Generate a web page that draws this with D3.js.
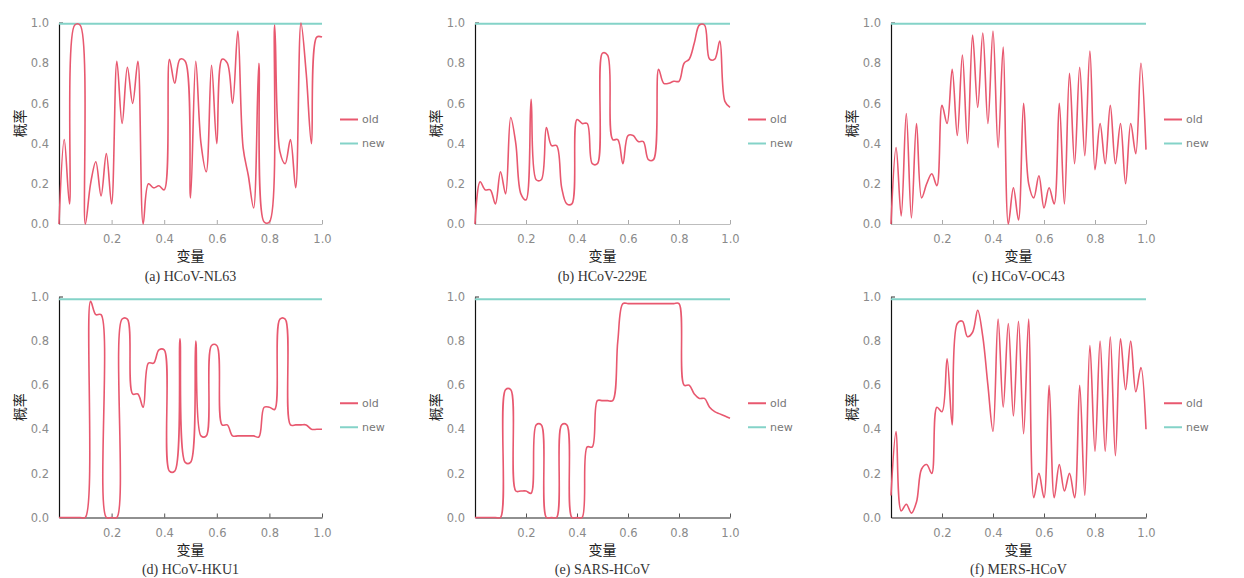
<!DOCTYPE html>
<html>
<head>
<meta charset="utf-8">
<script src="https://cdn.jsdelivr.net/npm/d3@7"></script>
<style>
  body { margin: 0; background: #fff; }
  svg { display: block; }
</style>
</head>
<body>
<svg id="chart"></svg>
<script>
const xValues = [0, 0.02, 0.04, 0.06, 0.08, 0.1, 0.12, 0.14, 0.16, 0.18, 0.2, 0.22, 0.24, 0.26, 0.28, 0.3,
  0.32, 0.34, 0.36, 0.38, 0.4, 0.42, 0.44, 0.46, 0.48, 0.5, 0.52, 0.54, 0.56, 0.58, 0.6, 0.62, 0.64,
  0.66, 0.68, 0.7, 0.72, 0.74, 0.76, 0.78, 0.8, 0.82, 0.84, 0.86, 0.88, 0.9, 0.92, 0.94, 0.96, 0.98, 1];

const captions = ["(a) HCoV-NL63", "(b) HCoV-229E", "(c) HCoV-OC43", "(d) HCoV-HKU1", "(e) SARS-HCoV", "(f) MERS-HCoV"];
const seriesNames = ["old", "new"];
const yTicks = [0, 0.2, 0.4, 0.6, 0.8, 1.0];
const xTicks = [0.2, 0.4, 0.6, 0.8, 1.0];

const oldNL63 = [0.0, 0.42, 0.1, 0.99, 0.99, 0.0, 0.2, 0.31, 0.14, 0.35, 0.1, 0.81, 0.5, 0.78, 0.6, 0.81, 0.0,
  0.2, 0.18, 0.19, 0.17, 0.82, 0.7, 0.82, 0.81, 0.13, 0.81, 0.4, 0.26, 0.79, 0.4, 0.82, 0.8, 0.6, 0.96, 0.38,
  0.24, 0.08, 0.8, 0.01, 0.01, 0.99, 0.36, 0.3, 0.42, 0.18, 1.0, 0.75, 0.4, 0.93, 0.93];
const old229E = [0.0, 0.21, 0.17, 0.17, 0.1, 0.26, 0.15, 0.53, 0.4, 0.15, 0.12, 0.62, 0.22, 0.22, 0.48, 0.39,
  0.39, 0.18, 0.1, 0.1, 0.52, 0.5, 0.5, 0.3, 0.3, 0.85, 0.84, 0.42, 0.42, 0.3, 0.44, 0.44, 0.41, 0.41, 0.32,
  0.32, 0.77, 0.7, 0.7, 0.71, 0.71, 0.8, 0.82, 0.9, 0.99, 0.99, 0.82, 0.82, 0.91, 0.61, 0.58];
const oldOC43 = [0.0, 0.38, 0.04, 0.55, 0.03, 0.5, 0.13, 0.2, 0.25, 0.19, 0.59, 0.5, 0.77, 0.44, 0.84, 0.4,
  0.94, 0.58, 0.95, 0.5, 0.96, 0.38, 0.88, 0.0, 0.18, 0.02, 0.6, 0.2, 0.13, 0.24, 0.08, 0.18, 0.1, 0.6, 0.1,
  0.75, 0.3, 0.78, 0.34, 0.86, 0.27, 0.5, 0.3, 0.59, 0.3, 0.5, 0.2, 0.5, 0.35, 0.8, 0.37];
const oldHKU1 = [0, 0, 0, 0, 0, 0, 0.98, 0.92, 0.92, 0, 0, 0, 0.9, 0.9, 0.56, 0.56, 0.5, 0.7, 0.7, 0.76, 0.76,
  0.21, 0.21, 0.81, 0.25, 0.25, 0.8, 0.37, 0.37, 0.78, 0.78, 0.42, 0.42, 0.37, 0.37, 0.37, 0.37, 0.37, 0.365,
  0.5, 0.5, 0.49, 0.9, 0.9, 0.42, 0.42, 0.42, 0.42, 0.4, 0.4, 0.4];
const oldSARS = [0, 0, 0, 0, 0, 0, 0.58, 0.58, 0.12, 0.12, 0.12, 0.11, 0.42, 0.42, 0, 0, 0, 0.42, 0.42, 0, 0,
  0, 0.32, 0.32, 0.53, 0.53, 0.53, 0.53, 0.8, 0.97, 0.97, 0.97, 0.97, 0.97, 0.97, 0.97, 0.97, 0.97, 0.97,
  0.97, 0.97, 0.6, 0.6, 0.56, 0.54, 0.54, 0.5, 0.48, 0.47, 0.46, 0.45];
const oldMERS = [0.1, 0.39, 0.03, 0.06, 0.02, 0.07, 0.22, 0.24, 0.2, 0.5, 0.48, 0.72, 0.42, 0.88, 0.89, 0.82,
  0.84, 0.94, 0.82, 0.6, 0.39, 0.9, 0.5, 0.88, 0.46, 0.89, 0.38, 0.9, 0.09, 0.2, 0.09, 0.6, 0.09, 0.24, 0.12,
  0.2, 0.09, 0.6, 0.1, 0.78, 0.3, 0.8, 0.3, 0.82, 0.28, 0.81, 0.58, 0.8, 0.57, 0.68, 0.4];
const newLevels = [0.996, 0.996, 0.996, 0.99, 0.99, 0.99];

const oldSeries = [oldNL63, old229E, oldOC43, oldHKU1, oldSARS, oldMERS];

const width = 1244, height = 578;
const svg = d3.select("#chart").attr("width", width).attr("height", height);

const colLeft = [59, 475, 891], colRight = [322, 730, 1146];
const rowTop = [23, 297], rowBottom = [224, 517.5];
const oldColor = "#e8586f", newColor = "#84d3c8";

captions.forEach((cap, i) => {
  const c = i % 3, r = Math.floor(i / 3);
  const x = d3.scaleLinear().domain([0, 1]).range([colLeft[c], colRight[c]]);
  const y = d3.scaleLinear().domain([0, 1]).range([rowBottom[r], rowTop[r]]);
  const g = svg.append("g");

  // y axis
  const yAxis = g.append("g")
    .attr("transform", `translate(${colLeft[c]},0)`)
    .call(d3.axisLeft(y).tickValues(yTicks).tickFormat(d3.format(".1f")).tickSize(0).tickPadding(10));
  yAxis.select(".domain").attr("stroke", "#111").attr("stroke-width", 1.2);
  yAxis.selectAll("text").attr("fill", "#8a8a8a").style("font-family", "'DejaVu Sans', sans-serif").style("font-size", "11.5px");
  yAxis.append("line").attr("x1", 0).attr("x2", 4).attr("y1", y(1)).attr("y2", y(1)).attr("stroke", "#333");

  // x axis
  const xAxis = g.append("g")
    .attr("transform", `translate(0,${rowBottom[r]})`)
    .call(d3.axisBottom(x).tickValues(xTicks).tickFormat(d3.format(".1f")).tickSizeOuter(0).tickSizeInner(-4).tickPadding(11));
  const axisColor = r === 0 ? "#bdbdbd" : "#222";
  xAxis.select(".domain").attr("stroke", axisColor).attr("stroke-width", r === 0 ? 1 : 1.2);
  xAxis.selectAll(".tick line").attr("stroke", r === 0 ? "#aaa" : "#555");
  xAxis.selectAll("text").attr("fill", "#8a8a8a").style("font-family", "'DejaVu Sans', sans-serif").style("font-size", "11.5px");

  // new line
  const lineGen = d3.line().x(d => x(d[0])).y(d => y(d[1]));
  g.append("path")
    .datum([[0, newLevels[i]], [1, newLevels[i]]])
    .attr("fill", "none").attr("stroke", newColor).attr("stroke-width", 2)
    .attr("d", lineGen);

  // old line
  const smooth = d3.line().x(d => x(d[0])).y(d => y(Math.max(0, d[1]))).curve(d3.curveCatmullRom.alpha(0.5));
  g.append("path")
    .datum(xValues.map((v, k) => [v, oldSeries[i][k]]))
    .attr("fill", "none").attr("stroke", oldColor).attr("stroke-width", 1.6)
    .attr("stroke-linejoin", "round")
    .attr("d", smooth);

  // axis titles
  const midY = (rowTop[r] + rowBottom[r]) / 2;
  g.append("text")
    .attr("transform", `translate(${colLeft[c] - 40},${midY}) rotate(-90)`)
    .attr("text-anchor", "middle").attr("dominant-baseline", "central")
    .style("font-family", "'Noto Sans CJK SC', sans-serif").style("font-size", "14px").attr("fill", "#222")
    .text("概率");
  const midX = (colLeft[c] + colRight[c]) / 2;
  g.append("text")
    .attr("x", midX).attr("y", rowBottom[r] + 31)
    .attr("text-anchor", "middle").attr("dominant-baseline", "central")
    .style("font-family", "'Noto Sans CJK SC', sans-serif").style("font-size", "14px").attr("fill", "#222")
    .text("变量");
  g.append("text")
    .attr("x", midX).attr("y", rowBottom[r] + 52)
    .attr("text-anchor", "middle").attr("dominant-baseline", "central")
    .style("font-family", "'Liberation Serif', serif").style("font-size", "14px").attr("fill", "#333")
    .text(cap);

  // legend
  const legX = colRight[c] + 18;
  const legY = midY - 4;
  const legend = g.append("g").attr("transform", `translate(${legX},${legY})`);
  seriesNames.forEach((name, k) => {
    legend.append("line")
      .attr("x1", 0).attr("x2", 18).attr("y1", k * 24).attr("y2", k * 24)
      .attr("stroke", k === 0 ? oldColor : newColor).attr("stroke-width", 2);
    legend.append("text")
      .attr("x", 22).attr("y", k * 24).attr("dominant-baseline", "central")
      .style("font-family", "'DejaVu Sans', sans-serif").style("font-size", "11px").attr("fill", "#777")
      .text(name);
  });
});
</script>
</body>
</html>
